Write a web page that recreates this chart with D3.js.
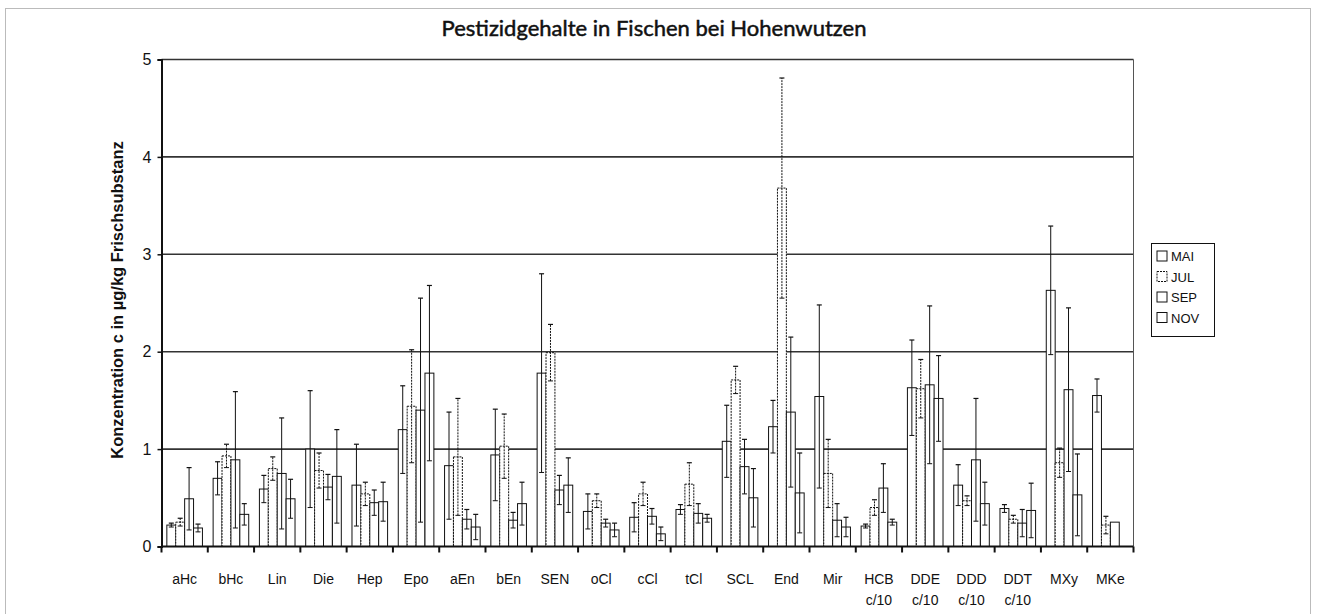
<!DOCTYPE html>
<html>
<head>
<meta charset="utf-8">
<script src="https://cdn.jsdelivr.net/npm/d3@7"></script>
<style>
  body { margin: 0; background: #fff; }
  svg text { fill: #111; }
</style>
</head>
<body>
<svg id="chart" width="1317" height="614"></svg>
<script>
// categories and values
const categories = ["aHc","bHc","Lin","Die","Hep","Epo","aEn","bEn","SEN","oCl","cCl","tCl","SCL","End","Mir","HCB\nc/10","DDE\nc/10","DDD\nc/10","DDT\nc/10","MXy","MKe"];
const seriesNames = ["MAI","JUL","SEP","NOV"];

const mai    = [0.22,0.70,0.59,1.00,0.63,1.20,0.83,0.94,1.78,0.36,0.30,0.38,1.08,1.23,1.54,0.21,1.63,0.63,0.39,2.63,1.55];
const maiErr = [0.02,0.17,0.14,0.60,0.42,0.45,0.55,0.47,1.02,0.18,0.15,0.05,0.37,0.27,0.94,0.02,0.49,0.21,0.04,0.66,0.17];
const jul    = [0.25,0.93,0.80,0.78,0.54,1.44,0.92,1.03,1.99,0.47,0.54,0.64,1.71,3.68,0.75,0.40,1.62,0.47,0.28,0.86,0.22];
const julErr = [0.04,0.12,0.12,0.18,0.12,0.58,0.60,0.33,0.29,0.07,0.12,0.22,0.14,1.13,0.35,0.08,0.30,0.05,0.04,0.15,0.09];
const sep    = [0.49,0.89,0.75,0.61,0.45,1.40,0.28,0.27,0.58,0.24,0.31,0.34,0.82,1.38,0.27,0.60,1.66,0.89,0.24,1.61,0.25];
const sepErr = [0.32,0.70,0.57,0.13,0.13,1.15,0.10,0.08,0.15,0.04,0.08,0.10,0.28,0.77,0.17,0.25,0.81,0.63,0.14,0.84,0];
const nov    = [0.19,0.33,0.49,0.72,0.46,1.78,0.20,0.44,0.63,0.17,0.13,0.29,0.50,0.55,0.20,0.25,1.52,0.44,0.37,0.53,null];
const novErr = [0.04,0.11,0.20,0.48,0.20,0.90,0.13,0.22,0.28,0.07,0.07,0.04,0.30,0.41,0.10,0.03,0.44,0.22,0.28,0.42,null];

const yTicks = [0,1,2,3,4,5];

const values = [mai, jul, sep, nov];
const errors = [maiErr, julErr, sepErr, novErr];
// outline style per series (scan shows solid / dotted outlines)
const dashes = [null, "2,1", null, null];

var svg = d3.select("svg#chart");

// outer dotted frame
svg.append("rect")
    .attr("x", 5.5).attr("y", 8.5)
    .attr("width", 1305).attr("height", 620)
    .attr("fill", "none")
    .attr("stroke", "#777")
    .attr("stroke-dasharray", "1,1");

var x = d3.scaleBand()
    .domain(categories)
    .range([161.5, 1133.5]);

var xs = d3.scaleBand()
    .domain(seriesNames)
    .range([0, x.bandwidth()])
    .paddingOuter(0.6);

var y = d3.scaleLinear()
    .domain([0, 5])
    .range([546.5, 59.5]);

// gridlines
svg.append("g")
    .selectAll("line")
    .data(yTicks.filter(d => d > 0))
    .enter().append("line")
    .attr("x1", x.range()[0]).attr("x2", x.range()[1])
    .attr("y1", d => y(d)).attr("y2", d => y(d))
    .attr("stroke", "#333")
    .attr("stroke-width", 1.6);

// right border of plot
svg.append("line")
    .attr("x1", x.range()[1]).attr("x2", x.range()[1])
    .attr("y1", y(5)).attr("y2", y(0))
    .attr("stroke", "#555").attr("stroke-width", 1);

// bars
var groups = svg.append("g")
    .selectAll("g")
    .data(categories)
    .enter().append("g")
    .attr("transform", d => `translate(${x(d)},0)`);

seriesNames.forEach((s, si) => {
    groups.filter((d, i) => values[si][i] != null)
        .append("rect")
        .attr("x", xs(s))
        .attr("width", xs.bandwidth())
        .attr("y", (d, i) => y(values[si][categories.indexOf(d)]))
        .attr("height", d => y(0) - y(values[si][categories.indexOf(d)]))
        .attr("fill", "#fff")
        .attr("stroke", "#111")
        .attr("stroke-width", 1)
        .attr("stroke-dasharray", dashes[si]);
});

// error bars
seriesNames.forEach((s, si) => {
    var eb = groups.filter(d => {
        const i = categories.indexOf(d);
        return values[si][i] != null && errors[si][i] > 0;
    }).append("g")
        .attr("transform", `translate(${xs(s) + xs.bandwidth() / 2},0)`);

    const lo = d => y(Math.max(0, values[si][categories.indexOf(d)] - errors[si][categories.indexOf(d)]));
    const hi = d => y(values[si][categories.indexOf(d)] + errors[si][categories.indexOf(d)]);

    eb.append("line")
        .attr("x1", 0).attr("x2", 0)
        .attr("y1", lo).attr("y2", hi)
        .attr("stroke", "#111")
        .attr("stroke-width", 1)
        .attr("stroke-dasharray", si == 1 ? "2,1" : null);
    eb.append("line")
        .attr("x1", -2.5).attr("x2", 2.5)
        .attr("y1", hi).attr("y2", hi)
        .attr("stroke", "#111").attr("stroke-width", 1.2);
    eb.append("line")
        .attr("x1", -2.5).attr("x2", 2.5)
        .attr("y1", lo).attr("y2", lo)
        .attr("stroke", "#111").attr("stroke-width", 1);
});

// y axis
var yAxis = svg.append("g")
    .attr("transform", `translate(${x.range()[0]},0)`)
    .call(d3.axisLeft(y).tickValues(yTicks).tickSize(4).tickFormat(d3.format("d")));
yAxis.select(".domain").attr("stroke", "#111").attr("stroke-width", 2);
yAxis.selectAll(".tick line").attr("stroke", "#111").attr("stroke-width", 1.5);
yAxis.selectAll(".tick text")
    .attr("x", -10)
    .style("font-family", "'Liberation Sans Narrow', 'Liberation Sans', Arial, sans-serif")
    .style("font-size", "16px");

// x axis: ticks at category boundaries
var xAxisG = svg.append("g");
xAxisG.append("line")
    .attr("x1", x.range()[0]).attr("x2", x.range()[1])
    .attr("y1", y(0)).attr("y2", y(0))
    .attr("stroke", "#111").attr("stroke-width", 2);
xAxisG.selectAll("line.tk")
    .data(categories.concat([null]))
    .enter().append("line")
    .attr("class", "tk")
    .attr("x1", (d, i) => x.range()[0] + i * x.step())
    .attr("x2", (d, i) => x.range()[0] + i * x.step())
    .attr("y1", y(0)).attr("y2", y(0) + 6)
    .attr("stroke", "#111").attr("stroke-width", 2);

var labels = xAxisG.selectAll("text")
    .data(categories)
    .enter().append("text")
    .attr("x", d => x(d) + x.bandwidth() / 2)
    .attr("y", 584)
    .attr("text-anchor", "middle")
    .style("font-family", "'Liberation Sans Narrow', 'Liberation Sans', Arial, sans-serif")
    .style("font-size", "14px");
labels.each(function(d) {
    const parts = d.split("\n");
    d3.select(this).selectAll("tspan")
        .data(parts)
        .enter().append("tspan")
        .attr("x", x(d) + x.bandwidth() / 2)
        .attr("dy", (p, j) => j == 0 ? 0 : 21)
        .text(p => p);
});

// title
svg.append("text")
    .attr("x", 654)
    .attr("y", 36)
    .attr("text-anchor", "middle")
    .style("font-family", "Lato, 'Open Sans', sans-serif")
    .style("font-size", "22px")
    .style("stroke", "#111")
    .style("stroke-width", "0.5px")
    .text("Pestizidgehalte in Fischen bei Hohenwutzen");

// y label
svg.append("text")
    .attr("transform", "translate(123,300) rotate(-90)")
    .attr("text-anchor", "middle")
    .style("font-family", "'Liberation Sans', Arial, sans-serif")
    .style("font-size", "16.5px")
    .style("font-weight", "bold")
    .text("Konzentration c in µg/kg Frischsubstanz");

// legend
var legend = svg.append("g").attr("transform", "translate(1151,243)");
legend.append("rect")
    .attr("x", 0.5).attr("y", 0.5)
    .attr("width", 63).attr("height", 93)
    .attr("fill", "#fff")
    .attr("stroke", "#111");
var items = legend.selectAll("g.item")
    .data(seriesNames)
    .enter().append("g")
    .attr("class", "item")
    .attr("transform", (d, i) => `translate(6,${14 + i * 20.5})`);
items.append("rect")
    .attr("x", 0).attr("y", -6)
    .attr("width", 10).attr("height", 10)
    .attr("fill", "#fff")
    .attr("stroke", "#111")
    .attr("stroke-dasharray", (d, i) => dashes[i]);
items.append("text")
    .attr("x", 14).attr("y", 4)
    .style("font-family", "'Liberation Sans Narrow', 'Liberation Sans', Arial, sans-serif")
    .style("font-size", "13px")
    .text(d => d);
</script>
</body>
</html>
